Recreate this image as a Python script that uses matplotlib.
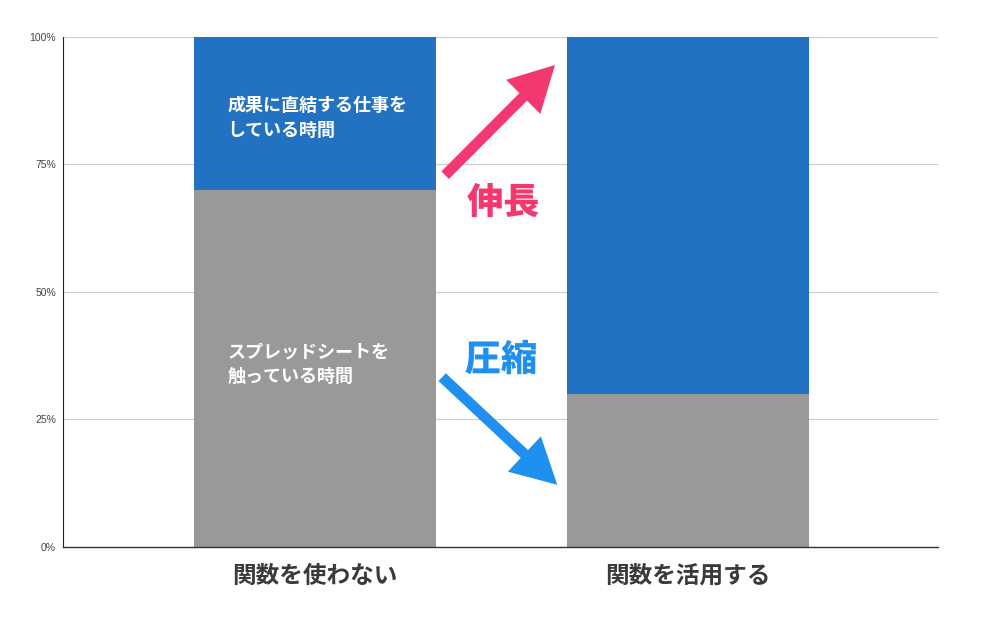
import matplotlib
matplotlib.use("Agg")
import matplotlib.pyplot as plt
import matplotlib.patheffects as pe
import numpy as np

plt.rcParams["font.family"] = ["Noto Sans CJK JP", "DejaVu Sans"]

categories = ["関数を使わない", "関数を活用する"]
spreadsheet_time = [70, 30]   # gray, bottom
result_time = [30, 70]        # blue, top
yticks = [0, 25, 50, 75, 100]
ytick_labels = ["0%", "25%", "50%", "75%", "100%"]

gray = "#999999"
blue = "#2372c1"
pink = "#f2386f"
arrow_blue = "#1f8ff0"

fig = plt.figure(figsize=(10.01, 6.21), dpi=100)
ax = fig.add_axes([0.0629, 0.1192, 0.8741, 0.8213])

x = np.arange(len(categories))
ax.bar(x, spreadsheet_time, width=0.65, color=gray, zorder=2)
ax.bar(x, result_time, width=0.65, bottom=spreadsheet_time, color=blue, zorder=2)

ax.set_xlim(-0.677, 1.672)
ax.set_ylim(0, 100)
ax.set_yticks(yticks)
ax.set_yticklabels(ytick_labels, fontsize=7.5, color="#444444", family=["Liberation Sans", "DejaVu Sans"])
ax.set_xticks(x)
ax.set_xticklabels(categories, fontsize=17, fontweight="bold", color="#3a3a3a")
ax.tick_params(axis="both", length=0)
ax.tick_params(axis="x", pad=12)
ax.tick_params(axis="y", pad=5)
ax.grid(axis="y", color="#cccccc", linewidth=0.8, zorder=0)
for s in ["top", "right"]:
    ax.spines[s].set_visible(False)
ax.spines["left"].set_color("#222222")
ax.spines["bottom"].set_color("#333333")
ax.spines["left"].set_linewidth(0.8)
ax.spines["bottom"].set_linewidth(1.0)

# labels inside the first bar
ax.text(-0.235, 84.2, "成果に直結する仕事を\nしている時間", color="white", fontsize=13,
        fontweight="bold", ha="left", va="center", linespacing=1.4, zorder=3)
ax.text(-0.235, 35.8, "スプレッドシートを\n触っている時間", color="white", fontsize=13,
        fontweight="bold", ha="left", va="center", linespacing=1.4, zorder=3)

# arrows
arrow_style = "simple,head_length=1.35,head_width=1.45,tail_width=0.32"
ax.annotate("", xy=(0.644, 94.5), xytext=(0.349, 72.9),
            arrowprops=dict(arrowstyle=arrow_style, mutation_scale=24, color=pink,
                            lw=0, shrinkA=0, shrinkB=0),
            zorder=4)
ax.annotate("", xy=(0.650, 12.2), xytext=(0.341, 33.3),
            arrowprops=dict(arrowstyle=arrow_style, mutation_scale=24, color=arrow_blue,
                            lw=0, shrinkA=0, shrinkB=0),
            zorder=4)

outline = [pe.SimplePatchShadow(offset=(1.5, -1.5), shadow_rgbFace="#bbbbbb", alpha=0.6),
           pe.withStroke(linewidth=5, foreground="white")]
ax.text(0.505, 67.5, "伸長", color=pink, fontsize=26, fontweight="black",
        ha="center", va="center", path_effects=outline, zorder=5)
ax.text(0.499, 36.7, "圧縮", color=arrow_blue, fontsize=26, fontweight="black",
        ha="center", va="center", path_effects=outline, zorder=5)

fig.savefig("out.png", dpi=100, facecolor="white")
